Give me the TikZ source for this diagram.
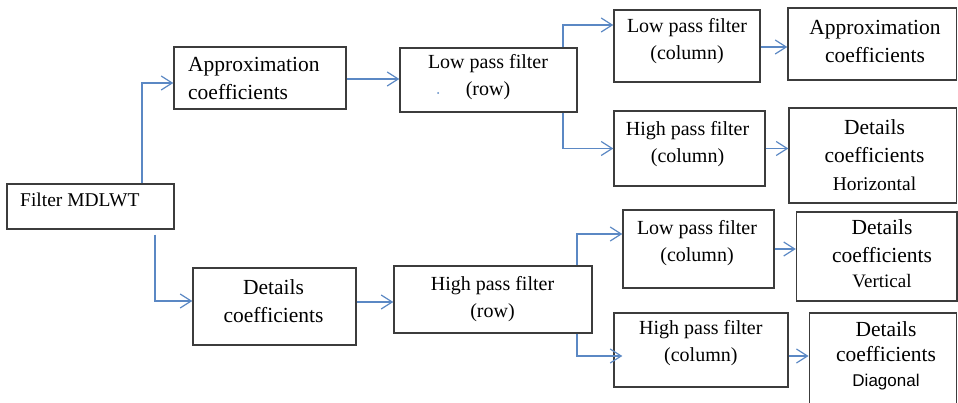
\documentclass[tikz,border=0pt]{standalone}
\usepackage{fontspec}
\setmainfont[Ligatures={NoCommon}]{Liberation Serif}
\newfontfamily\mydiagfont{Liberation Sans}
\usetikzlibrary{arrows.meta}
\definecolor{boxc}{HTML}{3C3C3C}
\definecolor{arrc}{HTML}{5B88C4}
\newcommand\myfbig{\fontsize{21.5}{28}\selectfont}
\newcommand\myfmid{\fontsize{20}{27}\selectfont}
\begin{document}
\begin{tikzpicture}[x=1pt,y=-1pt,
  box/.style={draw=boxc,line width=1.4pt,inner sep=0pt},
  txt/.style={inner sep=0pt,align=center,text=black},
  arr/.style={draw=arrc,line width=1.2pt,-{Straight Barb[length=11pt,width=14pt,line width=1.2pt]}}]
\clip (0,0) rectangle (958,403);
\fill[white] (0,0) rectangle (958,403);
% boxes
\node[box,minimum width=167pt,minimum height=45pt] (mdlwt) at (90.5,206.5) {};
\node[box,minimum width=172pt,minimum height=62pt] (approx1) at (260,78) {};
\node[box,minimum width=177pt,minimum height=64pt] (lpfrow) at (488.5,80) {};
\node[box,minimum width=146pt,minimum height=72pt] (lpfc1) at (687,46) {};
\node[box,minimum width=168.5pt,minimum height=72pt] (app2) at (872.25,44) {};
\node[box,minimum width=151pt,minimum height=75pt] (hpfc1) at (689.5,148.5) {};
\node[box,minimum width=167.5pt,minimum height=95pt] (dh) at (872.75,155.5) {};
\node[box,minimum width=163pt,minimum height=77pt] (dc) at (274.5,306.5) {};
\node[box,minimum width=198pt,minimum height=67pt] (hpfrow) at (493,299.5) {};
\node[box,minimum width=151pt,minimum height=78pt] (lpfc2) at (698.5,249) {};
\node[box,minimum width=160.5pt,minimum height=89pt] (dv) at (876.75,256.5) {};
\node[box,minimum width=174pt,minimum height=74pt] (hpfc2) at (701,350) {};
\node[box,minimum width=147.5pt,minimum height=107pt] (dd) at (883,366.5) {};
% texts
\node[txt,anchor=base west,font=\fontsize{19.5}{24}\selectfont] (tmdlwt) at (20,207) {Filter MDLWT};
\node[txt,anchor=west,align=left,font=\myfbig] (tapprox1) at (188,78.5) {Approximation\\coefficients};
\node[txt,font=\myfmid] (tlpfrow) at (488,77.4) {Low pass filter\\(row)};
\node[txt,font=\myfmid] (tlpfc1) at (687,41.4) {Low pass filter\\(column)};
\node[txt,font=\myfbig] (tapp2) at (875,41.5) {Approximation\\coefficients};
\node[txt,font=\myfmid] (thpfc1) at (687.5,143.9) {High pass filter\\(column)};
\node[txt,font=\myfbig] (tdh) at (874.5,155) {Details\\coefficients\\{\fontsize{19.5}{24}\selectfont Horizontal}};
\node[txt,font=\myfbig] (tdc) at (273.5,301.5) {Details\\coefficients};
\node[txt,font=\myfmid] (thpfrow) at (492.5,299.4) {High pass filter\\(row)};
\node[txt,font=\myfmid] (tlpfc2) at (697,243.4) {Low pass filter\\(column)};
\node[txt,font=\myfbig] (tdv) at (882,253.5) {Details\\coefficients\\[-3pt]{\fontsize{19}{24}\selectfont Vertical}};
\node[txt,font=\myfmid] (thpfc2) at (700.8,343.4) {High pass filter\\(column)};
\node[txt,font=\myfbig] (tdd) at (886,356.3) {Details\\[-3pt]coefficients\\[-3pt]{\mydiagfont\fontsize{17}{22}\selectfont Diagonal}};
\fill[arrc] (438,93) circle (1pt);
% connectors
\draw[arr] ([xshift=51.5pt]mdlwt.north) |- ([yshift=-5pt]approx1.west);
\draw[arr] ([xshift=64.5pt,yshift=-5pt]mdlwt.south) |- ([yshift=5.5pt]dc.west);
\draw[arr] ([yshift=-1pt]approx1.east) -- ([yshift=-1pt]approx1.east -| lpfrow.west);
\draw[arr] ([xshift=74.5pt]lpfrow.north) |- ([yshift=21pt]lpfc1.west);
\draw[arr] ([xshift=74.5pt]lpfrow.south) |- (hpfc1.west);
\draw[arr] ([yshift=-1pt]lpfc1.east) -- ([yshift=-1pt]lpfc1.east -| app2.west);
\draw[arr] (hpfc1.east) -- (hpfc1.east -| dh.west);
\draw[arr] ([yshift=4.5pt]dc.east) -- ([yshift=4.5pt]dc.east -| hpfrow.west);
\draw[arr] ([xshift=84pt]hpfrow.north) |- ([yshift=15pt]lpfc2.west);
\draw[arr] ([xshift=84pt]hpfrow.south) |- ([xshift=9pt,yshift=-6pt]hpfc2.west);
\draw[arr] (lpfc2.east) -- (lpfc2.east -| dv.west);
\draw[arr] ([yshift=-6pt]hpfc2.east) -- ([yshift=-6pt]hpfc2.east -| dd.west);
\end{tikzpicture}
\end{document}
